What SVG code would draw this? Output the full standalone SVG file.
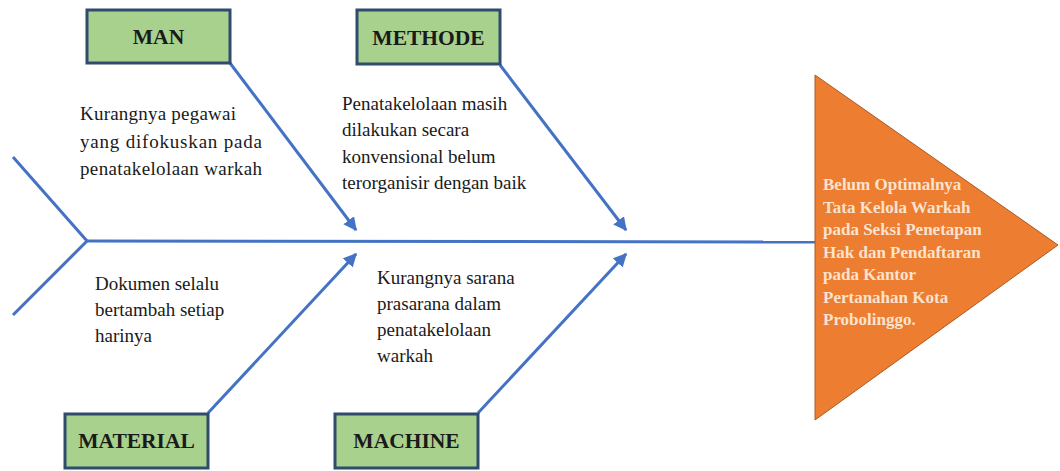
<svg xmlns="http://www.w3.org/2000/svg" width="1060" height="471" viewBox="0 0 1060 471">
<style>
.bone{stroke:#4472C4;stroke-width:3;fill:none}
.arr{stroke:#4472C4;stroke-width:3;fill:none;marker-end:url(#ah)}
.box{fill:#A9D18E;stroke:#2F4B6E;stroke-width:3}
.lbl{font-weight:bold;font-size:21.5px;fill:#1A1A1A;text-anchor:middle}
.txt{font-size:19px;fill:#1A1A1A}
.head{font-weight:bold;font-size:17px;fill:#FBE3CF}
</style>
<defs>
<marker id="ah" viewBox="0 0 10 10" refX="9" refY="5" markerWidth="4.5" markerHeight="4.5" orient="auto" markerUnits="strokeWidth">
<path d="M0,0 L10,5 L0,10 z" fill="#4472C4"/>
</marker>
</defs>
<rect width="1060" height="471" fill="#FFFFFF"/>
<g id="connectors">
<path class="bone" d="M13,157 L87,241 L13,315"/>
<path class="bone" d="M87,241 L816,242"/>
<path class="arr" d="M230,63 L356,230"/>
<path class="arr" d="M500,65 L626,230"/>
<path class="arr" d="M208,413 L356,254"/>
<path class="arr" d="M478,413 L626,254"/>
</g>
<g font-family="'Liberation Serif', 'Times New Roman', 'DejaVu Serif', serif">
<g id="effect">
<polygon points="815,75 1058,245 815,420" fill="#ED7D31" stroke="#A95A24" stroke-width="1"/>
<text class="head" x="823">
<tspan x="823" y="190">Belum Optimalnya</tspan>
<tspan x="823" y="212.5">Tata Kelola Warkah</tspan>
<tspan x="823" y="235">pada Seksi Penetapan</tspan>
<tspan x="823" y="257.5">Hak dan Pendaftaran</tspan>
<tspan x="823" y="280">pada Kantor</tspan>
<tspan x="823" y="302.5">Pertanahan Kota</tspan>
<tspan x="823" y="325">Probolinggo.</tspan>
</text>
</g>
<g id="man">
<rect class="box" x="87" y="10" width="143" height="53"/>
<text class="lbl" x="158.5" y="44">MAN</text>
<text class="txt" x="80" y="120" textLength="156" lengthAdjust="spacing">Kurangnya pegawai</text>
<text class="txt" x="80" y="147.5" textLength="182" lengthAdjust="spacing">yang difokuskan pada</text>
<text class="txt" x="80" y="175" textLength="182" lengthAdjust="spacing">penatakelolaan warkah</text>
</g>
<g id="methode">
<rect class="box" x="357" y="10" width="143" height="54"/>
<text class="lbl" x="428.5" y="45">METHODE</text>
<text class="txt">
<tspan x="342" y="110">Penatakelolaan masih</tspan>
<tspan x="342" y="136">dilakukan secara</tspan>
<tspan x="342" y="162.5">konvensional belum</tspan>
<tspan x="342" y="189">terorganisir dengan baik</tspan>
</text>
</g>
<g id="material">
<rect class="box" x="65" y="414" width="143" height="54"/>
<text class="lbl" x="136.5" y="448">MATERIAL</text>
<text class="txt">
<tspan x="95" y="290">Dokumen selalu</tspan>
<tspan x="95" y="316">bertambah setiap</tspan>
<tspan x="95" y="342">harinya</tspan>
</text>
</g>
<g id="machine">
<rect class="box" x="335" y="414" width="143" height="54"/>
<text class="lbl" x="406.5" y="448">MACHINE</text>
<text class="txt">
<tspan x="377" y="284">Kurangnya sarana</tspan>
<tspan x="377" y="310">prasarana dalam</tspan>
<tspan x="377" y="336">penatakelolaan</tspan>
<tspan x="377" y="362">warkah</tspan>
</text>
</g>
</g>
</svg>
